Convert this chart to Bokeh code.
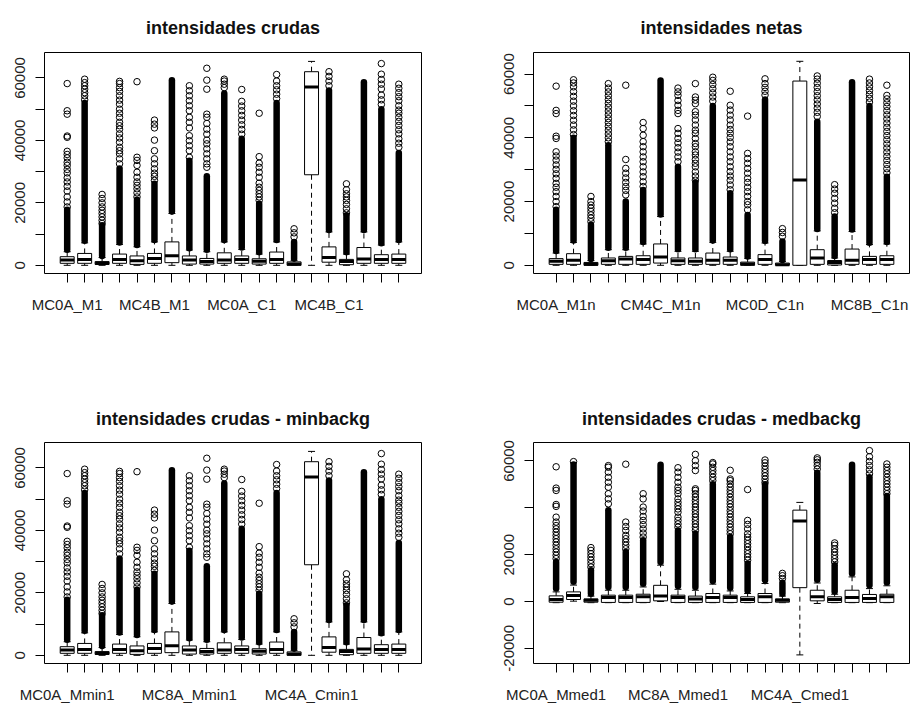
from bokeh.plotting import figure
from bokeh.models import ColumnDataSource, FixedTicker, Range1d
from bokeh.layouts import column, row
from bokeh.embed import file_html
from bokeh.resources import INLINE

FONT = "Liberation Sans"
TXT = "#222222"

positions = list(range(1, 21))

# ---------------- Panel 1: intensidades crudas ----------------
p1_title = "intensidades crudas"
p1_labels = {1: "MC0A_M1", 6: "MC4B_M1", 11: "MC0A_C1", 16: "MC4B_C1"}
p1_q1 = [640, 640, 300, 640, 300, 640, 850, 400, 400, 640, 640, 400, 640, 0, 29000, 1000, 200, 640, 640, 640]
p1_med = [1700, 1900, 600, 1900, 1500, 2200, 3100, 1700, 1200, 1700, 1900, 1300, 1900, 400, 57100, 2500, 1200, 2000, 1900, 1900]
p1_q3 = [2760, 3800, 1200, 3600, 3000, 3800, 7500, 3000, 2200, 4000, 3000, 2100, 4250, 1100, 62000, 5900, 1900, 5700, 3400, 3600]
p1_lo = [0, 0, 0, 0, 0, 0, 0, 0, 0, 0, 0, 0, 0, 0, 0, 0, 0, 0, 0, 0]
p1_hi = [4350, 7200, 2500, 6700, 5950, 7500, 16600, 4900, 4350, 7500, 5100, 3600, 7500, 1600, 65300, 10700, 3600, 10700, 6500, 7500]
p1_dense = [(5000, 17800), (7900, 52000), (3000, 12800), (7300, 31000), (6500, 21000),
            (8100, 26100), (17200, 59300), (5500, 33500), (5000, 28500), (8100, 55000),
            (5700, 40500), (4200, 19700), (8100, 52000), (2200, 7500), None,
            (11300, 56000), (4200, 16000), (11300, 58600), (7100, 50000), (8100, 36000)]
p1_out = [
    [18700, 20300, 21900, 23800, 25300, 26700, 28000, 29600, 30700, 32000, 33000, 34400, 35500, 36500, 41000, 41400, 48400, 49500, 58200],
    [53000, 54300, 55300, 56400, 57500, 58500, 59600],
    [13400, 14400, 15500, 16600, 17600, 18700, 20000, 21400, 22700],
    [32500, 34100, 35700, 36700, 37800, 39400, 40800, 42100, 43600, 44700, 45800, 47400, 48700, 50000, 51600, 52900, 54300, 55700, 56900, 58200, 58900],
    [21900, 23200, 24500, 25600, 26700, 28200, 29800, 32000, 33600, 34600, 58800],
    [27200, 28500, 29500, 30900, 32500, 34100, 36700, 40100, 44000, 45200, 46500],
    [],
    [34600, 36700, 38300, 39900, 41500, 44000, 45800, 47400, 49500, 51100, 52700, 54300, 55900, 57500],
    [31400, 32500, 34100, 35700, 37300, 38900, 40100, 42000, 43600, 45400, 47400, 48400, 56400, 59300, 63100],
    [56900, 58000, 59000, 59600],
    [42000, 43500, 45000, 46500, 48000, 49500, 51000, 52500, 56300],
    [20800, 21900, 22900, 24000, 25000, 26300, 28200, 29800, 31400, 32700, 34800, 48700],
    [53400, 54800, 56200, 57500, 59000, 61100],
    [9100, 10400, 11700],
    [],
    [57500, 59000, 60500, 62000],
    [16800, 18100, 19500, 20800, 21900, 22900, 24200, 26100],
    [],
    [51500, 53000, 54500, 56500, 58000, 59500, 61200, 64600],
    [37800, 39100, 40500, 42100, 43400, 44800, 46100, 47400, 48700, 49700, 51100, 52700, 54000, 55300, 56700, 58000],
]

# ---------------- Panel 2: intensidades netas ----------------
p2_title = "intensidades netas"
p2_labels = {1: "MC0A_M1n", 7: "CM4C_M1n", 13: "MC0D_C1n", 19: "MC8B_C1n"}
p2_q1 = [300, 300, 0, 300, 300, 300, 700, 300, 300, 300, 300, 0, 300, 0, 0, 300, 100, 300, 300, 300]
p2_med = [1250, 1550, 300, 1450, 2000, 1800, 2600, 1450, 1250, 1550, 1550, 400, 1800, 200, 26800, 2300, 900, 1550, 1800, 1800]
p2_q3 = [2100, 3650, 900, 2300, 2800, 3000, 6700, 2300, 2300, 3850, 2600, 1000, 3350, 700, 57800, 4900, 1500, 5100, 2800, 3000]
p2_lo = [0, 0, 0, 0, 0, 0, 0, 0, 0, 0, 0, 0, 0, 0, 0, 0, 0, 0, 0, 0]
p2_hi = [3850, 7200, 1500, 4900, 4900, 6700, 15300, 4400, 4400, 7200, 4400, 2200, 7000, 1200, 64000, 10800, 2300, 10600, 6500, 6700]
p2_dense = [(4500, 17400), (7800, 40000), (2000, 12700), (5500, 37700), (5500, 20000),
            (7300, 23600), (15900, 58000), (5000, 30900), (5000, 26000), (7800, 50000),
            (5000, 22600), (2800, 15800), (7600, 52000), (1700, 7500), None,
            (11400, 45000), (2900, 15300), (11200, 57400), (7100, 50000), (7300, 27800)]
p2_out = [
    [18400, 20000, 21600, 23100, 24500, 25700, 27300, 28700, 30100, 31500, 33000, 34300, 35600, 39800, 40500, 47600, 48600, 56200],
    [41000, 42500, 44000, 45500, 47000, 48500, 50000, 51500, 53000, 54500, 56000, 57200, 58200],
    [13700, 14800, 15800, 16900, 17900, 18900, 20000, 21600],
    [38800, 40000, 41200, 42400, 43600, 44800, 46000, 47200, 48400, 49600, 50800, 52000, 53200, 54400, 55600, 57000],
    [22100, 23500, 24700, 26000, 27400, 28900, 30400, 33200, 56500],
    [24700, 26200, 27800, 29300, 30900, 32500, 34000, 35600, 37200, 38800, 40800, 42900, 44800],
    [],
    [32500, 34000, 35500, 36900, 38400, 39800, 41400, 42900, 47600, 48600, 50200, 51700, 53300, 54400, 55600],
    [26700, 28000, 29300, 30900, 32000, 33200, 34600, 35600, 37200, 38200, 39800, 41400, 42400, 44000, 45600, 47100, 48200, 50700, 51800, 52800, 57000],
    [51500, 52800, 54100, 55400, 56700, 58000, 59000],
    [23700, 25200, 26700, 28000, 29400, 30900, 32500, 34000, 35600, 37200, 38700, 40100, 41400, 42600, 44000, 45600, 47100, 48700, 50200, 54600],
    [17400, 19000, 20000, 21600, 23100, 24500, 26000, 27300, 28900, 30400, 32000, 33500, 35100, 46800],
    [53400, 54600, 55800, 57000, 58500],
    [9100, 10300, 11500],
    [],
    [46700, 48000, 49300, 50600, 51900, 53200, 54500, 55800, 57100, 58400, 59400],
    [16500, 17900, 19500, 21000, 22600, 23900, 25300],
    [],
    [51200, 52400, 53600, 54800, 56000, 57200, 58400],
    [29000, 30300, 31600, 32900, 34200, 35500, 36800, 38100, 39400, 40700, 42000, 43300, 44600, 45900, 47200, 48500, 49800, 51000, 52200, 53300, 56500],
]

# ---------------- Panel 3: intensidades crudas - minbackg ----------------
p3_title = "intensidades crudas - minbackg"
p3_labels = {1: "MC0A_Mmin1", 8: "MC8A_Mmin1", 15: "MC4A_Cmin1"}
p3_q1 = list(p1_q1)
p3_med = list(p1_med)
p3_q3 = list(p1_q3)
p3_lo = list(p1_lo)
p3_hi = list(p1_hi)
p3_dense = list(p1_dense)
p3_out = [list(o) for o in p1_out]

# ---------------- Panel 4: intensidades crudas - medbackg ----------------
p4_title = "intensidades crudas - medbackg"
p4_labels = {1: "MC0A_Mmed1", 8: "MC8A_Mmed1", 15: "MC4A_Cmed1"}
p4_q1 = [-300, 850, -300, -400, -400, -400, 280, -400, -400, -400, -400, -400, -400, -300, 5900, 280, -400, -400, -400, -400]
p4_med = [850, 2550, 560, 1700, 1700, 2000, 2300, 1700, 1100, 1700, 1700, 850, 2000, 560, 34400, 2000, 850, 1700, 1300, 2000]
p4_q3 = [2400, 4100, 1100, 2700, 2700, 3100, 6900, 2700, 2300, 3400, 2700, 2000, 3400, 1100, 39000, 4800, 2000, 4800, 3000, 3100]
p4_lo = [-500, 140, -500, -500, -500, -500, 0, -500, -500, -500, -500, -500, -500, -500, -22800, -850, -500, -500, -500, -500]
p4_hi = [4100, 7000, 2300, 4800, 4800, 6200, 15500, 5200, 4800, 7400, 4500, 3400, 7700, 2300, 42300, 7900, 3100, 10500, 5500, 6700]
p4_dense = [(5500, 16900), (8400, 58500), (3300, 13300), (6200, 39000), (6200, 21100),
            (7600, 26100), (16900, 58400), (6600, 30300), (6200, 28900), (8800, 50000),
            (5900, 27500), (4600, 16200), (9100, 50000), (3300, 8000), None,
            (9300, 55000), (4300, 15500), (11900, 58400), (6900, 53000), (8100, 45000)]
p4_out = [
    [18300, 19700, 21100, 22500, 24000, 25400, 26800, 28200, 29600, 31000, 32400, 33900, 36000, 40600, 41400, 47400, 48400, 57500],
    [59700],
    [14700, 16200, 17600, 19000, 20400, 21800, 23000],
    [41700, 43800, 46000, 48800, 50900, 53000, 55200, 57300, 58000],
    [22500, 24000, 25400, 26800, 28200, 30300, 32000, 33900, 58600],
    [27500, 29200, 31000, 32800, 34600, 36300, 38600, 40300, 43800, 46000],
    [],
    [31700, 33100, 34600, 36000, 38100, 39500, 40900, 42300, 43800, 46000, 47400, 48800, 50900, 53000, 55200, 57100],
    [30300, 31700, 33100, 34600, 36000, 37400, 38900, 40300, 41700, 43100, 44600, 46000, 47400, 48100, 55900, 58000, 60100, 62800],
    [51600, 53000, 54500, 55900, 57300, 58700, 59300],
    [28900, 30300, 31700, 33100, 34600, 36000, 37400, 38800, 40300, 41700, 43100, 44500, 46000, 47400, 48800, 50200, 51600, 52300, 56000],
    [17600, 19000, 20400, 21800, 23300, 24700, 26100, 27500, 28900, 31000, 32900, 34600, 47800],
    [50800, 52200, 53600, 55000, 56400, 57800, 59200, 60400],
    [9800, 11000, 12000],
    [],
    [56500, 58000, 59400, 60500, 61300],
    [16900, 18300, 19700, 21100, 22500, 24000, 25000],
    [],
    [54500, 56200, 58000, 59800, 61800, 64400],
    [46000, 47400, 48800, 50200, 51600, 53000, 54500, 55900, 57300, 58700],
]

# y axes
y13_range = (-2620, 68150)
y13_ticks = [0, 10000, 20000, 30000, 40000, 50000, 60000]
y13_ticklabels = ["0", "", "20000", "", "40000", "", "60000"]
y2_range = (-2570, 66760)
y4_range = (-26470, 67870)
y4_ticks = [-20000, 0, 20000, 40000, 60000]
y4_ticklabels = ["-20000", "0", "20000", "", "60000"]
x_range = (-0.3, 21.3)


def make_panel(title, labels, q1, med, q3, lo, hi, dense, outl, yrange, yticks, yticklabels,
               left, right, top, bottom, fw, title_standoff):
    p = figure(frame_width=fw, frame_height=221,
               x_range=Range1d(*x_range), y_range=Range1d(*yrange),
               output_backend="svg", toolbar_location=None,
               min_border_left=left, min_border_right=right,
               min_border_top=top, min_border_bottom=bottom,
               title=title)
    p.title.align = "center"
    p.title.vertical_align = "top"
    p.title.text_font = FONT
    p.title.text_font_size = "18px"
    p.title.text_font_style = "bold"
    p.title.text_color = "#111111"
    p.title.standoff = title_standoff
    p.grid.visible = False
    p.outline_line_color = "black"
    p.outline_line_width = 1
    p.background_fill_color = "white"
    p.border_fill_color = "white"

    # x axis
    xa = p.xaxis[0]
    xa.ticker = FixedTicker(ticks=positions)
    xa.major_label_overrides = {i: labels.get(i, "") for i in positions}
    xa.axis_line_color = None
    xa.major_tick_in = 0
    xa.major_tick_out = 9
    xa.minor_tick_line_color = None
    xa.major_tick_line_color = "black"
    xa.major_label_standoff = 13
    xa.major_label_text_font = FONT
    xa.major_label_text_font_size = "15px"
    xa.major_label_text_color = TXT

    # y axis
    ya = p.yaxis[0]
    ya.ticker = FixedTicker(ticks=yticks)
    ya.major_label_overrides = {t: l for t, l in zip(yticks, yticklabels)}
    ya.axis_line_color = None
    ya.major_tick_in = 0
    ya.major_tick_out = 9
    ya.minor_tick_line_color = None
    ya.major_tick_line_color = "black"
    ya.major_label_standoff = 10
    ya.major_label_orientation = "vertical"
    ya.major_label_text_font = FONT
    ya.major_label_text_font_size = "15px"
    ya.major_label_text_color = TXT

    left_e = [x - 0.4 for x in positions]
    right_e = [x + 0.4 for x in positions]
    src = ColumnDataSource(dict(x=positions, q1=q1, med=med, q3=q3, lo=lo, hi=hi,
                                l=left_e, r=right_e,
                                sl=[x - 0.2 for x in positions], sr=[x + 0.2 for x in positions]))
    # whiskers
    p.segment(x0="x", y0="q3", x1="x", y1="hi", source=src, line_color="black",
              line_width=1, line_dash="5 4")
    p.segment(x0="x", y0="q1", x1="x", y1="lo", source=src, line_color="black",
              line_width=1, line_dash="5 4")
    # staples
    p.segment(x0="sl", y0="hi", x1="sr", y1="hi", source=src, line_color="black", line_width=1)
    p.segment(x0="sl", y0="lo", x1="sr", y1="lo", source=src, line_color="black", line_width=1)
    # boxes
    p.quad(left="l", right="r", bottom="q1", top="q3", source=src,
           fill_color="white", line_color="black", line_width=1)
    # medians
    p.segment(x0="l", y0="med", x1="r", y1="med", source=src, line_color="black",
              line_width=3, line_cap="butt")

    # dense runs of outliers
    dx, d0, d1 = [], [], []
    for x, d in zip(positions, dense):
        if d is not None:
            dx.append(x)
            d0.append(d[0])
            d1.append(d[1])
    p.segment(x0=dx, y0=d0, x1=dx, y1=d1, line_color="black", line_width=6.5, line_cap="round")

    # individual outliers
    ox, oy = [], []
    for x, vals in zip(positions, outl):
        for v in vals:
            ox.append(x)
            oy.append(v)
    p.scatter(ox, oy, marker="circle", size=6.5, fill_color=None, line_color="black", line_width=1)
    return p


pa = make_panel(p1_title, p1_labels, p1_q1, p1_med, p1_q3, p1_lo, p1_hi, p1_dense, p1_out,
                y13_range, y13_ticks, y13_ticklabels, 44, 34, 52, 107, 377, 25)
pb = make_panel(p2_title, p2_labels, p2_q1, p2_med, p2_q3, p2_lo, p2_hi, p2_dense, p2_out,
                y2_range, y13_ticks, y13_ticklabels, 78, 1, 52, 107, 376, 25)
pc = make_panel(p3_title, p3_labels, p3_q1, p3_med, p3_q3, p3_lo, p3_hi, p3_dense, p3_out,
                y13_range, y13_ticks, y13_ticklabels, 44, 34, 62, 43, 377, 24)
pd = make_panel(p4_title, p4_labels, p4_q1, p4_med, p4_q3, p4_lo, p4_hi, p4_dense, p4_out,
                y4_range, y4_ticks, y4_ticklabels, 78, 1, 62, 43, 376, 24)

layout = column(row(pa, pb), row(pc, pd))
open("out.html", "w").write(file_html(layout, INLINE))
